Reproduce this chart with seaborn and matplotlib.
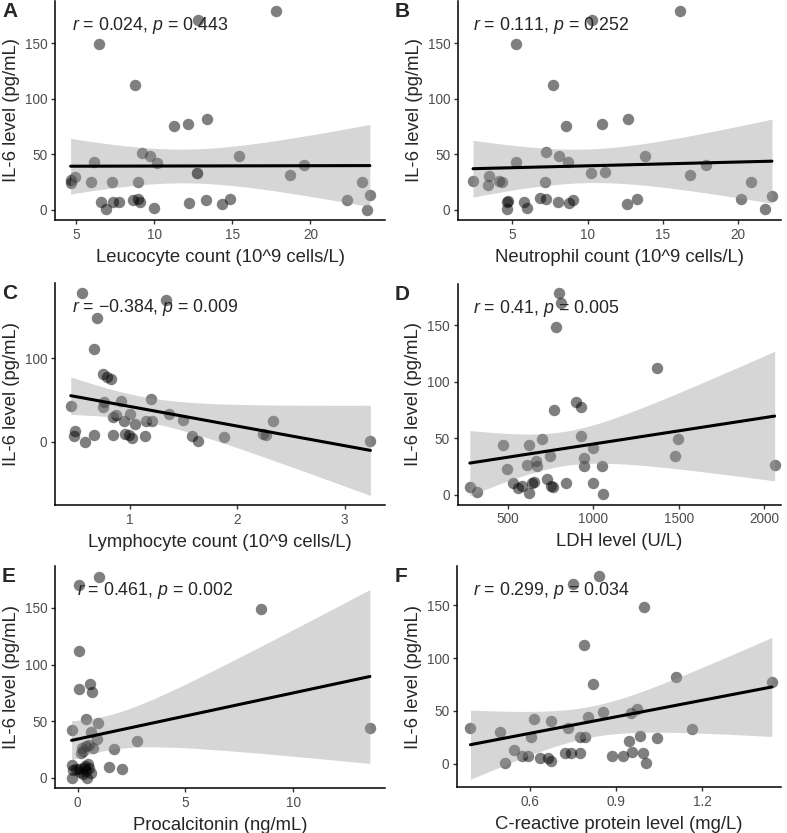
# IL-6 level vs. blood markers, six scatter panels with linear fit
import numpy as np
import matplotlib
matplotlib.use('Agg')
import matplotlib.pyplot as plt
import seaborn as sns

# IL-6 level (pg/mL) against each marker
leuco_x = [17.8, 12.8, 6.5, 8.75, 11.27, 12.14, 13.36, 9.23, 9.76, 10.17, 15.4, 6.18, 19.6,
           18.69, 12.73, 4.68, 4.66, 4.94, 5.98, 7.33, 8.95, 6.58, 6.92, 7.39, 7.78, 8.68,
           9.0, 9.1, 10.02, 12.26, 13.33, 14.34, 14.87, 22.31, 23.27, 23.8, 23.64, 12.75]
leuco_il6 = [178.6, 170.6, 149, 112.5, 75.7, 77.7, 82.2, 51.5, 48.8, 42.6, 48.8, 43.5, 40.7,
             31.8, 33.7, 24.3, 27.2, 29.6, 25.1, 25.1, 24.9, 7.4, 0.6, 7.4, 7.4, 8.9,
             9.5, 7.1, 1.5, 6.2, 8.9, 5.6, 9.5, 9.2, 25.2, 13.1, 0.0, 33.0]

neutro_x = [16.12, 10.29, 5.22, 7.72, 8.54, 10.98, 12.69, 7.21, 8.08, 8.70, 13.84, 5.22, 17.85,
            16.78, 10.2, 11.16, 2.39, 3.43, 3.36, 4.11, 4.29, 7.15, 20.84, 4.67, 4.73, 4.65,
            5.75, 6.0, 6.82, 7.26, 8.06, 8.77, 9.03, 12.64, 13.26, 20.17, 21.81, 22.25]
neutro_il6 = [178.6, 170.6, 149, 112.5, 75.7, 77.7, 82.2, 51.9, 48.4, 43.0, 48.7, 43.6, 40.7,
              31.8, 33.2, 34.1, 26.4, 30.3, 22.8, 25.8, 25.2, 25.2, 25.2, 7.4, 8.3, 0.6,
              7.4, 2.1, 10.4, 9.5, 7.1, 5.9, 8.9, 5.3, 9.5, 9.5, 0.6, 12.5]

lympho_x = [0.745, 0.783, 0.823, 0.447, 0.761, 0.752, 0.913, 1.193, 0.839, 0.866, 1.0, 0.944,
            1.047, 1.149, 1.202, 1.36, 1.491, 0.488, 0.481, 0.58, 0.668, 0.845, 0.953, 0.994,
            1.016, 1.14, 1.575, 1.637, 1.879, 0.55, 1.33, 0.69, 0.665, 2.24, 2.27, 2.33, 3.24]
lympho_il6 = [80.8, 77.6, 74.4, 42.4, 47.6, 41.6, 48.4, 50.8, 29.6, 31.6, 33.6, 24.8,
              21.6, 24.8, 24.8, 33.6, 25.6, 12.4, 6.8, 0.0, 8.4, 8.4, 8.8, 7.6,
              4.4, 6.8, 6.8, 0.4, 5.6, 178, 169.6, 148, 111.2, 8.8, 7.5, 24.8, 1.2]

ldh_x = [280, 324, 472, 496, 532, 560, 586, 624, 614, 626, 642, 654, 664, 674, 702, 730, 746,
         754, 764, 844, 930, 944, 948, 1000, 1002, 1050, 1056, 772, 899, 932, 800, 811, 784,
         1373, 1494, 1477, 2060]
ldh_il6 = [6.5, 2.4, 43.8, 22.9, 10.4, 6, 7.4, 43.5, 25.9, 1.2, 10.1, 11.3, 29.8, 25.3, 48.8,
           13.4, 34.2, 7.4, 6.8, 9.8, 51.8, 32.7, 25.3, 41.7, 9.8, 25.3, 0.3, 75.3, 81.8, 77.4,
           178.3, 170.2, 148.2, 112.2, 48.8, 34.2, 26.5]

pct_x = [1.0, 0.06, 8.5, 0.06, 0.06, 0.57, 0.65, 0.37, 0.96, -0.28, 13.55, 0.6, 0.88, 2.75,
         0.19, 0.39, 0.54, 0.26, 1.68, -0.28, -0.2, -0.09, 0.34, 0.54, 1.45, 2.06, -0.28, 0.45,
         0.1, 0.25, 0.5, 0.3, 0.7, 0.15, 0.4, 0.05, 0.6]
pct_il6 = [177.6, 170.5, 148.7, 112, 78, 82.6, 75.5, 51.5, 48.5, 42.6, 44, 40.6, 34.4, 32.4,
           26.5, 27.9, 29.4, 23.5, 25, 10.9, 6.8, 7.9, 10.3, 8.8, 9.4, 7.4, 0, 0,
           5, 3, 12, 9, 26, 22, 6, 8, 4]

crp_x = [0.391, 0.493, 0.513, 0.544, 0.572, 0.593, 0.602, 0.614, 0.632, 0.661, 0.673, 0.673,
         0.722, 0.731, 0.743, 0.772, 0.772, 0.79, 0.802, 0.853, 0.884, 0.924, 0.945, 0.953,
         0.951, 0.972, 0.982, 0.992, 1.003, 1.043, 0.838, 0.749, 0.997, 0.787, 0.819, 1.107,
         1.442, 1.164]
crp_il6 = [34.2, 29.7, 0.9, 13, 7.3, 7.3, 25, 42.4, 5.1, 5.7, 2.8, 40.8,
           9.8, 33.5, 9.8, 9.8, 25, 25, 44, 48.7, 7.6, 7.6, 21.8, 11.1,
           48.4, 51.6, 26.6, 9.8, 0.3, 24.7, 177.8, 170.5, 148.3, 112.4, 75.2, 82.2,
           77.8, 32.4]

panel_letters = ['A', 'B', 'C', 'D', 'E', 'F']
x_labels = ['Leucocyte count (10^9 cells/L)', 'Neutrophil count (10^9 cells/L)',
            'Lymphocyte count (10^9 cells/L)', 'LDH level (U/L)',
            'Procalcitonin (ng/mL)', 'C-reactive protein level (mg/L)']
notes = ['$r$ = 0.024, $p$ = 0.443', '$r$ = 0.111, $p$ = 0.252',
         '$r$ = \u22120.384, $p$ = 0.009', '$r$ = 0.41, $p$ = 0.005',
         '$r$ = 0.461, $p$ = 0.002', '$r$ = 0.299, $p$ = 0.034']
x_ticks = [[5, 10, 15, 20], [5, 10, 15, 20], [1, 2, 3], [500, 1000, 1500, 2000],
           [0, 5, 10], [0.6, 0.9, 1.2]]
y_ticks = [[0, 50, 100, 150], [0, 50, 100, 150], [0, 100], [0, 50, 100, 150],
           [0, 50, 100, 150], [0, 50, 100, 150]]


def lm_band(x, y, t_crit=2.03):
    # 95% confidence band of a least-squares line (same as geom_smooth(method='lm'))
    x = np.asarray(x, float)
    y = np.asarray(y, float)
    n = len(x)
    b1, b0 = np.polyfit(x, y, 1)
    resid = y - (b0 + b1 * x)
    s = np.sqrt(np.sum(resid ** 2) / (n - 2))
    grid = np.linspace(x.min(), x.max(), 100)
    se = s * np.sqrt(1 / n + (grid - x.mean()) ** 2 / np.sum((x - x.mean()) ** 2))
    fit = b0 + b1 * grid
    return grid, fit - t_crit * se, fit + t_crit * se


def draw_panel(ax, x, y, xlabel, note, xlim, ylim, xticks, yticks, note_x):
    sns.regplot(x=np.array(x), y=np.array(y), ax=ax, ci=None,
                scatter_kws=dict(s=68, color='black', alpha=0.5, linewidths=0, zorder=1),
                line_kws=dict(color='black', lw=2.2, zorder=3))
    grid, lo, hi = lm_band(x, y)
    ax.fill_between(grid, lo, hi, color='#999999', alpha=0.4, linewidth=0, zorder=2)
    ax.set_xlim(xlim)
    ax.set_ylim(ylim)
    ax.set_xticks(xticks)
    ax.set_yticks(yticks)
    if xticks[0] == 0.6:
        ax.set_xticklabels(['0.6', '0.9', '1.2'])
    ax.set_xlabel(xlabel, fontsize=13.3, labelpad=5)
    ax.set_ylabel('IL-6 level (pg/mL)', fontsize=13.3, labelpad=3.5)
    ax.text(note_x, 0.888, note, transform=ax.transAxes, fontsize=12.8,
            ha='left', va='center')
    sns.despine(ax=ax)
    for side in ['left', 'bottom']:
        ax.spines[side].set_linewidth(1.1)
        ax.spines[side].set_color('black')
    ax.tick_params(direction='out', length=3, width=1, color='#333333',
                   labelcolor='#4D4D4D', labelsize=9.8, pad=2.5)


def main():
    sns.set_style('ticks')
    plt.rcParams['font.family'] = ['Liberation Sans', 'DejaVu Sans']
    plt.rcParams['mathtext.fontset'] = 'custom'
    plt.rcParams['mathtext.it'] = 'Liberation Sans:italic'
    plt.rcParams['mathtext.rm'] = 'Liberation Sans'

    fig = plt.figure(figsize=(7.87, 8.33), dpi=100)

    # axes boxes in pixels: left, top, right, bottom
    boxes = [(55, 1, 385, 220), (458, 1, 781, 220),
             (55, 283, 385, 505), (457.5, 283.6, 781, 504.7),
             (55, 566, 385, 788), (457, 566, 781, 787.3)]
    xlims = [(3.66, 24.77), (1.39, 22.85), (0.30, 3.376), (208, 2097),
             (-1.05, 14.25), (0.344, 1.474)]
    ylims = [(-9, 188), (-9, 188), (-76, 190), (-9, 187), (-9, 187), (-22.5, 187.4)]
    note_xs = [0.052, 0.046, 0.05, 0.049, 0.068, 0.049]

    xs = [leuco_x, neutro_x, lympho_x, ldh_x, pct_x, crp_x]
    ys = [leuco_il6, neutro_il6, lympho_il6, ldh_il6, pct_il6, crp_il6]

    W, H = 787, 833
    for i in range(6):
        l, t, r, b = boxes[i]
        ax = fig.add_axes([l / W, 1 - b / H, (r - l) / W, (b - t) / H])
        draw_panel(ax, xs[i], ys[i], x_labels[i], notes[i], xlims[i], ylims[i],
                   x_ticks[i], y_ticks[i], note_xs[i])
        lx = 2 if l < 300 else 395
        fig.text(lx / W, 1 - (t + 1) / H, panel_letters[i], fontsize=15,
                 fontweight='bold', ha='left', va='top')

    fig.savefig('out.png', dpi=100)


if __name__ == '__main__':
    main()
